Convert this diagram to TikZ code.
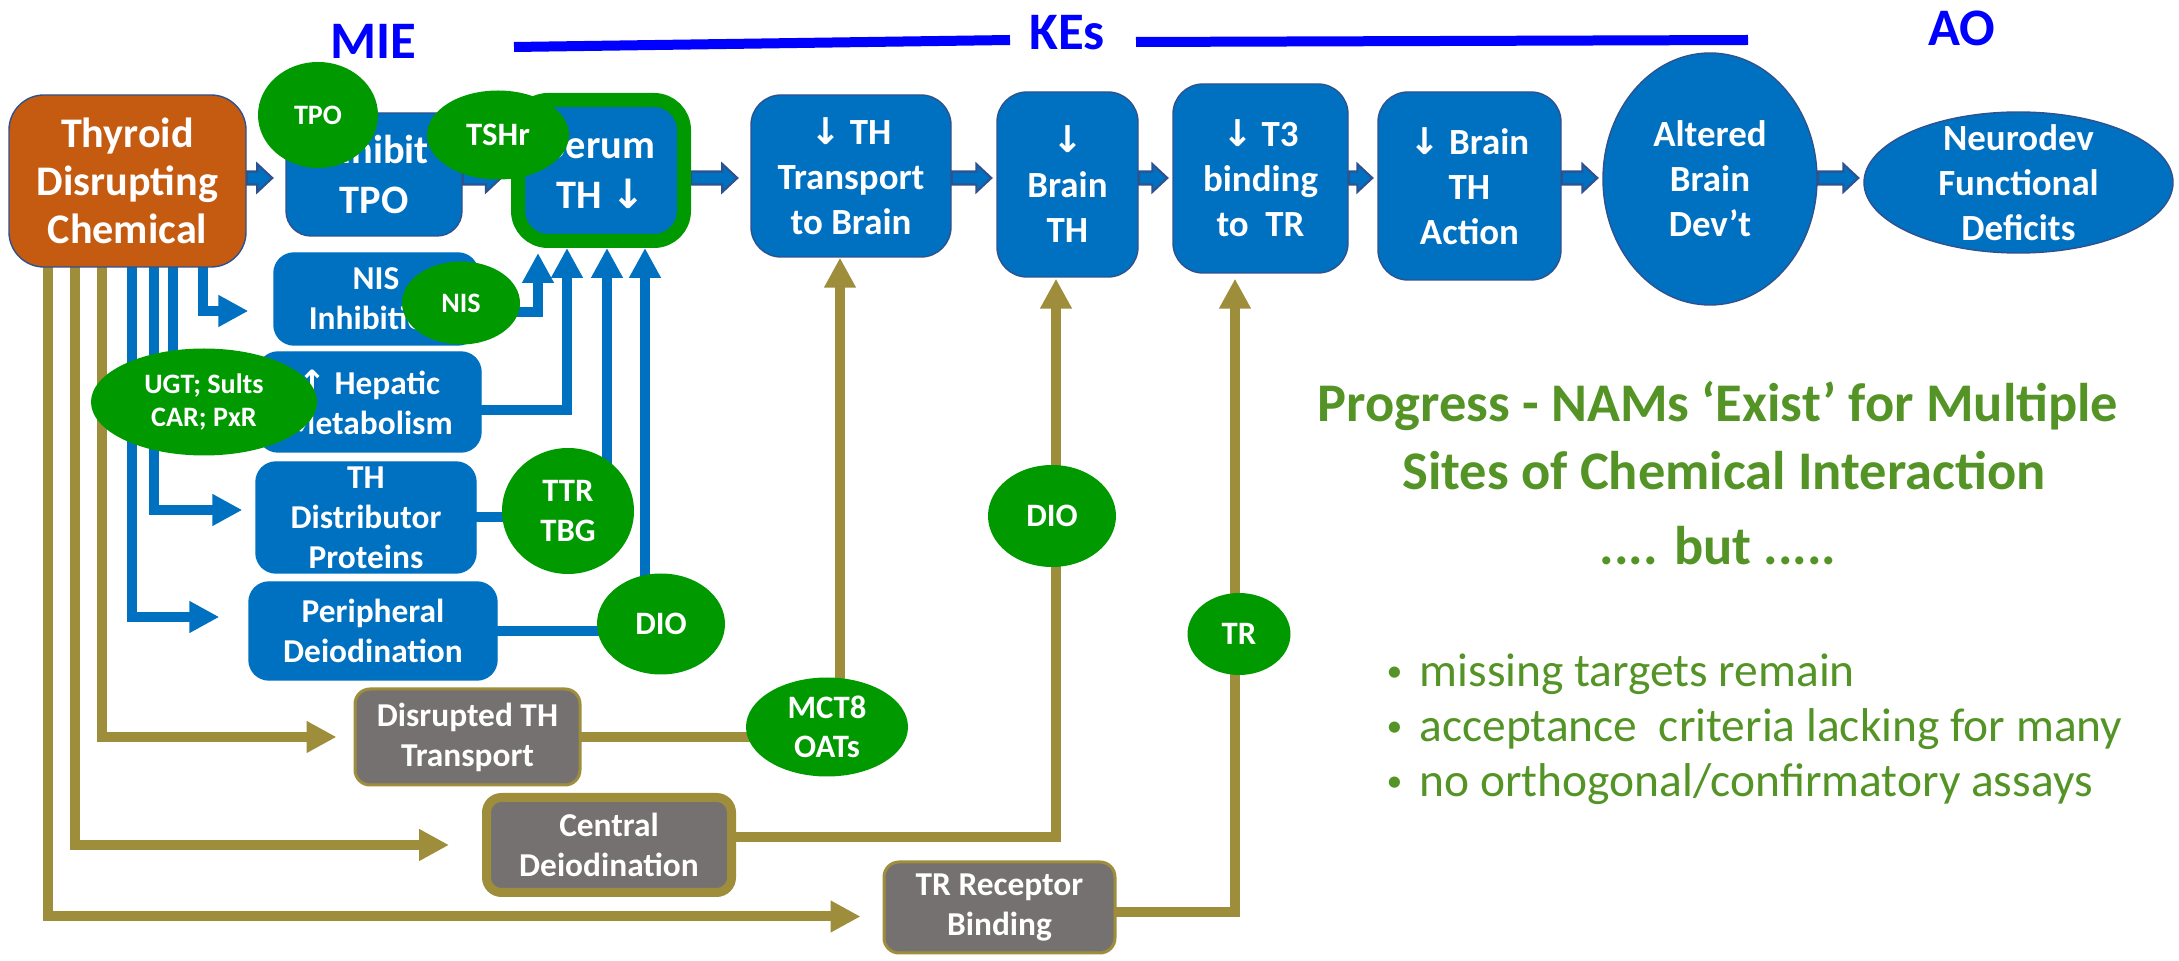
\documentclass[tikz,border=0pt]{standalone}
\usepackage{fontspec}
\setmainfont{Carlito}
\newfontfamily\arrowfont{DejaVu Sans}
\usetikzlibrary{arrows.meta,calc,backgrounds,shapes.geometric}
\definecolor{boxblue}{RGB}{0,112,192}
\definecolor{edgeblue}{RGB}{47,82,143}
\definecolor{tdcorange}{RGB}{197,90,17}
\definecolor{siteg}{RGB}{0,153,0}
\definecolor{olive}{RGB}{158,142,60}
\definecolor{greyfill}{RGB}{118,113,113}
\definecolor{titleblue}{RGB}{0,0,255}
\definecolor{notegreen}{RGB}{84,148,38}
\newcommand\dnarr{{\arrowfont ↓}}
\newcommand\uparr{{\arrowfont ↑}}
\newcommand\itm{\makebox[3.3mm][l]{\raisebox{1.5pt}{\fontsize{9}{9}\selectfont •}}}
\newcommand\blockarr[3][0.5mm]{\filldraw[blockarr] let \p1=(#2.east |- ax), \p2=(#3.west |- ax) in
  (\x1,\y1+0.65mm) -- (\x2-#1-1.5mm,\y1+0.65mm) -- (\x2-#1-1.5mm,\y1+1.4mm) -- (\x2-#1,\y1)
  -- (\x2-#1-1.5mm,\y1-1.4mm) -- (\x2-#1-1.5mm,\y1-0.65mm) -- (\x1,\y1-0.65mm) -- cycle;}

\begin{document}
\begin{tikzpicture}[x=0.1mm,y=-0.1mm,
  box/.style={rectangle, rounded corners=2mm, fill=boxblue, draw=boxblue, text=white, align=center, inner sep=0pt, font=\bfseries\fontsize{9.5}{11.4}\selectfont},
  kebox/.style={box, draw=edgeblue, rounded corners=3mm, font=\bfseries\fontsize{10.5}{12.8}\selectfont},
  greybox/.style={box, fill=greyfill, draw=olive, line width=0.3mm, rounded corners=1.5mm},
  site/.style={ellipse, fill=siteg, text=white, align=center, inner sep=0pt, font=\bfseries\fontsize{9.3}{11.2}\selectfont},
  smallsite/.style={site, font=\bfseries\fontsize{8}{9.4}\selectfont},
  title/.style={text=titleblue, inner sep=0pt, font=\bfseries\fontsize{15}{18}\selectfont},
  note/.style={text=notegreen, inner sep=0pt, font=\bfseries\fontsize{15.5}{19}\selectfont},
  missing/.style={text=notegreen, inner sep=0pt, font=\fontsize{13.5}{16}\selectfont},
  blueline/.style={draw=boxblue, line width=1mm},
  bluelink/.style={blueline, -{Triangle[width=3mm,length=3mm]}},
  oliveline/.style={draw=olive, line width=1mm},
  olivelink/.style={oliveline, -{Triangle[width=3mm,length=3mm]}},
  blockarr/.style={fill=boxblue, draw=edgeblue, line width=0.6pt}]
\useasboundingbox (0,0) rectangle (2179,961);

\node[title] (mie) at (373,41) {MIE};
\node[title] (kes) at (1067,33) {KEs};
\node[title] (ao) at (1962,28) {AO};
\draw[titleblue, line width=1mm] (514,47) -- (1010,40);
\draw[titleblue, line width=1mm] (1136,42) -- (1748,40);

\node[box, draw=edgeblue, fill=tdcorange, rounded corners=3.5mm, minimum width=23.7mm, minimum height=17.2mm, font=\bfseries\fontsize{12}{13.6}\selectfont] (tdc) at (127.5,181) {Thyroid\\Disrupting\\Chemical};
\node[box, draw=edgeblue, rounded corners=2.5mm, minimum width=17.6mm, minimum height=12.3mm, font=\bfseries\fontsize{11.5}{14.2}\selectfont] (itpo) at (374,174.5) {Inhibit\\TPO};
\node[box, draw=siteg, line width=1.4mm, rounded corners=3mm, minimum width=16.6mm, minimum height=14.1mm, font=\bfseries\fontsize{11.5}{14.2}\selectfont] (serum) at (601,170.5) {Serum\\TH \dnarr};
\node[box, minimum width=20.4mm, minimum height=9.2mm] (nisbox) at (376,299) {NIS\\Inhibition};
\node[box, minimum width=22.3mm, minimum height=10mm] (hep) at (369.5,402) {\uparr{} Hepatic\\Metabolism};
\node[box, minimum width=22mm, minimum height=11.1mm] (dist) at (366,517.5) {TH\\Distributor\\Proteins};
\node[box, minimum width=24.8mm, minimum height=9.8mm] (peri) at (373,631) {Peripheral\\Deiodination};
\node[greybox, minimum width=22.5mm, minimum height=9.6mm] (dtt) at (467.5,737) {Disrupted TH\\Transport};
\node[greybox, line width=0.9mm, minimum width=24.5mm, minimum height=9.5mm] (cdeio) at (609,845) {Central\\Deiodination};
\node[greybox, minimum width=23.1mm, minimum height=9.1mm] (trrb) at (999.5,907.5) {TR Receptor\\Binding};

\node[kebox, minimum width=20mm, minimum height=16.2mm] (ketr) at (851,176) {\dnarr{} TH\\Transport\\to Brain};
\node[kebox, minimum width=14.1mm, minimum height=18.5mm] (kebr) at (1067.5,184.5) {\dnarr\\Brain\\TH};
\node[kebox, minimum width=17.5mm, minimum height=18.9mm] (ket3) at (1260.5,178.5) {\dnarr{} T3\\binding\\to\ \ TR};
\node[kebox, minimum width=18.3mm, minimum height=18.8mm] (keact) at (1469.5,186) {\dnarr{} Brain\\TH\\Action};
\node[kebox, ellipse, sharp corners, minimum width=21.4mm, minimum height=25.2mm] (altered) at (1710,179) {Altered\\Brain\\Dev’t};
\node[kebox, ellipse, sharp corners, minimum width=30.9mm, minimum height=14.1mm,
  label={[text=white, align=center, font=\bfseries\fontsize{10.5}{12.8}\selectfont]center:Neurodev\\Functional\\Deficits}] (neuro) at (2018.5,182.5) {};

\node[smallsite, minimum width=12mm, minimum height=10.6mm] (tpo) at (318,115) {TPO};
\node[site, minimum width=14.2mm, minimum height=8.9mm] (tshr) at (498,135) {TSHr};
\node[smallsite, minimum width=11.8mm, minimum height=8.3mm] (nis) at (461,303) {NIS};
\node[smallsite, minimum width=22.6mm, minimum height=10.7mm] (ugt) at (204,402) {UGT; Sults\\CAR; PxR};
\node[site, minimum width=13.2mm, minimum height=12.6mm] (ttr) at (568,511) {TTR\\TBG};
\node[site, minimum width=12.8mm, minimum height=10.1mm] (dio) at (661,624) {DIO};
\node[site, minimum width=16.2mm, minimum height=9.9mm] (mct) at (827,727) {MCT8\\OATs};
\node[site, minimum width=12.8mm, minimum height=10.2mm] (cdio) at (1052,516) {DIO};
\node[site, minimum width=10.3mm, minimum height=8.2mm] (tr) at (1239,634) {TR};

\coordinate (ax) at (0,178);
\coordinate (b1) at (132,267);
\coordinate (b2) at (154,267);
\coordinate (b3) at (173,267);
\coordinate (b4) at (203,267);
\coordinate (o1) at (102,267);
\coordinate (o2) at (75,267);
\coordinate (o3) at (48,267);
\coordinate (s3) at ([xshift=9.6mm]serum.south west);
\coordinate (s4) at ([xshift=13.4mm]serum.south west);
\coordinate (k1) at ([xshift=-1.1mm]ketr.south);

\begin{scope}[on background layer]
\blockarr[1.3mm]{tdc}{itpo}
\blockarr[1mm]{itpo}{serum}
\blockarr[1.3mm]{serum}{ketr}
\blockarr{ketr}{kebr}
\blockarr{kebr}{ket3}
\blockarr{ket3}{keact}
\blockarr{keact}{altered}
\blockarr{altered}{neuro}
\draw[bluelink, shorten >=2.5mm] (b4) |- ([yshift=-1.2mm]nisbox.west);
\draw[bluelink, shorten >=1mm] (b3) |- (hep.west);
\draw[bluelink, shorten >=1.3mm] (b2) |- ([yshift=0.75mm]dist.west);
\draw[bluelink, shorten >=2.9mm] (b1) |- ([yshift=1.4mm]peri.west);
\draw[bluelink, shorten >=0.5mm] ([yshift=-0.9mm]nis.center) -| ([xshift=2.7mm]serum.south west);
\draw[bluelink] ([yshift=-0.8mm]hep.center) -| ([xshift=5.6mm]serum.south west);
\draw[bluelink] (ttr.center -| s3) -- (s3);
\draw[bluelink] (dio.center -| s4) -- (s4);
\draw[blueline] (dist.center) -- (dist.center -| ttr.center);
\draw[blueline] (peri.center) -- (peri.center -| dio.center);
\draw[olivelink, shorten >=1.7mm] (o1) |- (dtt.west);
\draw[olivelink, shorten >=3.3mm] (o2) |- (cdeio.west);
\draw[olivelink, shorten >=2.2mm] (o3) |- ([yshift=-0.9mm]trrb.west);
\draw[oliveline] (dtt.center) -- (dtt.center -| mct.center);
\draw[olivelink] (mct.center -| k1) -- (k1);
\draw[olivelink] ([yshift=0.8mm]cdeio.center) -| ([xshift=-1.15mm,yshift=-0.1mm]kebr.south);
\draw[olivelink, shorten >=0.5mm] ([yshift=-0.45mm]trrb.center) -| ([xshift=-2.55mm]ket3.south);
\end{scope}

\node[note, anchor=base] (prog) at (1718,422) {Progress - NAMs ‘Exist’ for Multiple};
\node[note, anchor=base] (sites) at (1724,490) {Sites of Chemical Interaction};
\node[note, anchor=base] (but) at (1718,565) {.... but .....};
\node[missing, anchor=base west] (miss1) at (1386,687) {\itm missing targets remain};
\node[missing, anchor=base west] (miss2) at (1386,742) {\itm acceptance\ \ criteria lacking for many};
\node[missing, anchor=base west] (miss3) at (1386,797) {\itm no orthogonal/confirmatory assays};
\end{tikzpicture}
\end{document}
